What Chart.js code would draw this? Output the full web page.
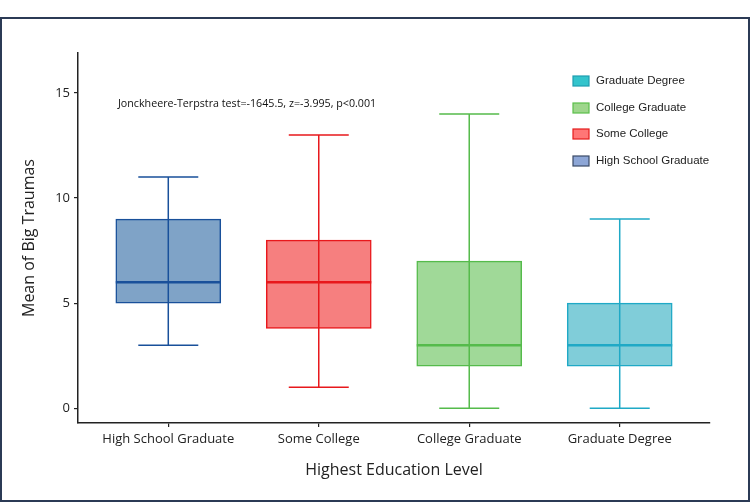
<!DOCTYPE html>
<html>
<head>
<meta charset="utf-8">
<script src="https://cdn.jsdelivr.net/npm/chart.js@4.4.0/dist/chart.umd.min.js"></script>
<style>
  body { margin: 0; background: #fff; }
  #wrap { position: relative; width: 750px; height: 502px; }
  #frame { position: absolute; left: 0; top: 17px; width: 750px; height: 485px; box-sizing: border-box;
           border: 2px solid #2b3a55; pointer-events: none; }
</style>
</head>
<body>
<div id="wrap">
  <canvas id="myChart" width="750" height="502"></canvas>
  <div id="frame"></div>
</div>
<script>
// categorias e valores do boxplot
var categorias = ['High School Graduate', 'Some College', 'College Graduate', 'Graduate Degree'];
var minimos  = [3, 1, 0, 0];
var q1s      = [5, 3.8, 2, 2];
var medianas = [6, 6, 3, 3];
var q3s      = [9, 8, 7, 5];
var maximos  = [11, 13, 14, 9];
var ticksY   = [0, 5, 10, 15];
var legendaOrdem = ['Graduate Degree', 'College Graduate', 'Some College', 'High School Graduate'];
var textoTeste = 'Jonckheere-Terpstra test=-1645.5, z=-3.995, p<0.001';

var fundos  = ['rgba(127,163,199,1)', 'rgba(246,127,127,1)', 'rgba(160,217,152,1)', 'rgba(128,205,217,1)'];
var bordas  = ['#19509a', '#e8181c', '#55bb4b', '#1fa9c6'];
var legFundo = { 'Graduate Degree': '#33c4cc', 'College Graduate': '#9ed68c', 'Some College': '#ff7676', 'High School Graduate': '#8da6d6' };
var legBorda = { 'Graduate Degree': '#1e9db0', 'College Graduate': '#5bbf4a', 'Some College': '#e51c1c', 'High School Graduate': '#3a4a66' };

var fonteTexto = '"Open Sans", sans-serif';

var datasets = categorias.map(function (c, i) {
  return {
    label: c,
    data: [{ x: i, y: [q1s[i], q3s[i]] }],
    backgroundColor: fundos[i],
    borderColor: bordas[i],
    borderWidth: 1.5,
    borderSkipped: false,
    barThickness: 105,
    grouped: false
  };
});

// bigodes, medianas, legenda e texto do teste
var boxPlugin = {
  id: 'boxExtras',
  afterDatasetsDraw: function (chart) {
    var ctx = chart.ctx;
    var xs = chart.scales.x, ys = chart.scales.y;
    ctx.save();
    categorias.forEach(function (c, i) {
      var x = xs.getPixelForValue(i);
      var half = 105 / 2, cap = 30;
      ctx.strokeStyle = bordas[i];
      ctx.lineWidth = 1.5;
      ctx.beginPath();
      ctx.moveTo(x, ys.getPixelForValue(minimos[i]));
      ctx.lineTo(x, ys.getPixelForValue(maximos[i]));
      ctx.moveTo(x - cap, ys.getPixelForValue(minimos[i]));
      ctx.lineTo(x + cap, ys.getPixelForValue(minimos[i]));
      ctx.moveTo(x - cap, ys.getPixelForValue(maximos[i]));
      ctx.lineTo(x + cap, ys.getPixelForValue(maximos[i]));
      ctx.stroke();
      ctx.lineWidth = 2.5;
      ctx.beginPath();
      ctx.moveTo(x - half, ys.getPixelForValue(medianas[i]));
      ctx.lineTo(x + half, ys.getPixelForValue(medianas[i]));
      ctx.stroke();
    });

    // texto do teste
    ctx.fillStyle = '#111';
    ctx.font = '10.7px ' + fonteTexto;
    ctx.textBaseline = 'middle';
    ctx.textAlign = 'left';
    ctx.fillText(textoTeste, 118, 104);

    // legenda
    var ly = [81, 108, 134, 161];
    ctx.font = '11.5px "Liberation Sans", Arial, sans-serif';
    legendaOrdem.forEach(function (nome, k) {
      ctx.fillStyle = legFundo[nome];
      ctx.strokeStyle = legBorda[nome];
      ctx.lineWidth = 1.2;
      ctx.fillRect(573, ly[k] - 5, 16, 10);
      ctx.strokeRect(573, ly[k] - 5, 16, 10);
      ctx.fillStyle = '#222';
      ctx.fillText(nome, 596, ly[k]);
    });
    ctx.restore();
  }
};

var config = {
  type: 'bar',
  data: { datasets: datasets },
  options: {
    animation: false,
    responsive: false,
    layout: { padding: { left: 0, top: 53, right: 40, bottom: 0 } },
    plugins: { legend: { display: false }, tooltip: { enabled: false } },
    scales: {
      x: {
        type: 'linear',
        offset: false,
        min: -0.6,
        max: 3.6,
        afterBuildTicks: function (s) { s.ticks = categorias.map(function (c, i) { return { value: i }; }); },
        afterFit: function (s) { s.height = 79; },
        ticks: {
          callback: function (v) { return categorias[v]; },
          color: '#222',
          font: { family: fonteTexto, size: 13 },
          padding: 4,
          maxRotation: 0
        },
        grid: { display: true, offset: false, drawOnChartArea: false, drawTicks: true, tickLength: 4, color: '#222', lineWidth: 1.2 },
        border: { display: true, color: '#222', width: 1.5 },
        title: { display: true, text: 'Highest Education Level', color: '#222',
                 font: { family: fonteTexto, size: 16 }, padding: { bottom: 22 } }
      },
      y: {
        min: -0.7,
        max: 16.9,
        afterBuildTicks: function (s) { s.ticks = ticksY.map(function (v) { return { value: v }; }); },
        afterFit: function (s) { s.width = 78; },
        ticks: { color: '#222', font: { family: fonteTexto, size: 13 }, padding: 4 },
        grid: { display: true, drawOnChartArea: false, drawTicks: true, tickLength: 4, color: '#222', lineWidth: 1.2 },
        border: { display: true, color: '#222', width: 1.5 },
        title: { display: true, text: 'Mean of Big Traumas', color: '#222',
                 font: { family: fonteTexto, size: 16 }, padding: { top: 20 } }
      }
    }
  },
  plugins: [boxPlugin]
};

window.myChart = new Chart(document.getElementById('myChart'), config);
</script>
</body>
</html>
